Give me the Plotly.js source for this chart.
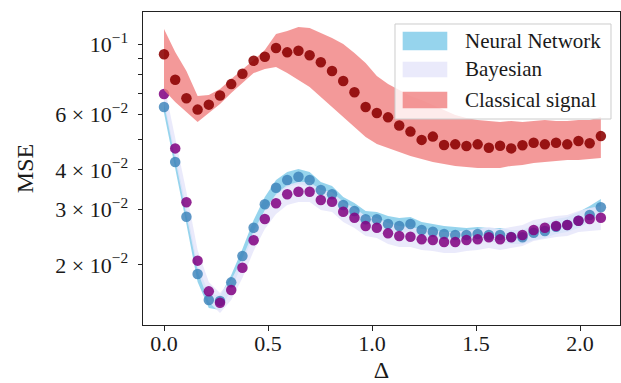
<!DOCTYPE html>
<html>
<head>
<meta charset="utf-8">
<script src="https://cdn.plot.ly/plotly-3.0.1.min.js"></script>
<style>html,body{margin:0;padding:0;background:#fff;}#chart{width:621px;height:383px;}</style>
</head>
<body>
<div id="chart"></div>
<script>
// Δ grid (40 samples from 0 to 2.1)
const delta = [0, 0.0538, 0.1077, 0.1615, 0.2154, 0.2692, 0.3231, 0.3769, 0.4308, 0.4846,
  0.5385, 0.5923, 0.6462, 0.7, 0.7538, 0.8077, 0.8615, 0.9154, 0.9692, 1.0231,
  1.0769, 1.1308, 1.1846, 1.2385, 1.2923, 1.3462, 1.4, 1.4538, 1.5077, 1.5615,
  1.6154, 1.6692, 1.7231, 1.7769, 1.8308, 1.8846, 1.9385, 1.9923, 2.0462, 2.1];

// Neural Network
const nnMean = [0.0633, 0.0424, 0.02844, 0.01873, 0.01549, 0.01538, 0.01762, 0.02135, 0.02624, 0.03113,
  0.03513, 0.03716, 0.03806, 0.03716, 0.03455, 0.03348, 0.03097, 0.02965, 0.02791, 0.02791,
  0.02697, 0.02658, 0.02697, 0.02581, 0.02549, 0.02506, 0.02488, 0.02488, 0.02506, 0.02488,
  0.02488, 0.02452, 0.02447, 0.02530, 0.02562, 0.02644, 0.02677, 0.02762, 0.02879, 0.03046];
const nnUpper = [0.0666, 0.0453, 0.0303, 0.01985, 0.01630, 0.01595, 0.01859, 0.02247, 0.02776, 0.03283,
  0.03717, 0.03940, 0.04027, 0.03940, 0.03663, 0.03558, 0.03283, 0.03143, 0.02965, 0.02943,
  0.02859, 0.02817, 0.02838, 0.02736, 0.02696, 0.02657, 0.02638, 0.02619, 0.02638, 0.02619,
  0.02619, 0.02581, 0.02581, 0.02677, 0.02716, 0.02796, 0.02838, 0.02943, 0.03075, 0.03236];
const nnLower = [0.0606, 0.0406, 0.02696, 0.01766, 0.01461, 0.01440, 0.01666, 0.02029, 0.02488, 0.02965,
  0.03332, 0.03532, 0.03610, 0.03532, 0.03283, 0.03189, 0.02943, 0.02817, 0.02657, 0.02657,
  0.02562, 0.02525, 0.02562, 0.02452, 0.02435, 0.02382, 0.02365, 0.02365, 0.02382, 0.02365,
  0.02365, 0.02331, 0.02331, 0.02399, 0.02435, 0.02506, 0.02543, 0.02619, 0.02736, 0.02900];

// Bayesian
const bayMean = [0.0696, 0.0468, 0.03159, 0.02064, 0.01650, 0.01519, 0.01666, 0.01961, 0.02394, 0.02797,
  0.03136, 0.03348, 0.03412, 0.03412, 0.03212, 0.03172, 0.02949, 0.02823, 0.02658, 0.02624,
  0.02519, 0.02470, 0.02458, 0.02411, 0.02399, 0.02364, 0.02364, 0.02399, 0.02411, 0.02447,
  0.02411, 0.02447, 0.02488, 0.02581, 0.02624, 0.02658, 0.02677, 0.02762, 0.02797, 0.02823];
const bayUpper = [0.0748, 0.0505, 0.0341, 0.02231, 0.01766, 0.01630, 0.01792, 0.02104, 0.02562, 0.02987,
  0.03356, 0.03584, 0.03663, 0.03663, 0.03455, 0.03405, 0.03166, 0.03030, 0.02859, 0.02817,
  0.02716, 0.02657, 0.02638, 0.02600, 0.02581, 0.02543, 0.02543, 0.02581, 0.02600, 0.02638,
  0.02600, 0.02638, 0.02677, 0.02776, 0.02817, 0.02859, 0.02879, 0.02965, 0.03030, 0.03075];
const bayLower = [0.0647, 0.0433, 0.02922, 0.01914, 0.01527, 0.01409, 0.01549, 0.01818, 0.02214, 0.02600,
  0.02900, 0.03097, 0.03166, 0.03166, 0.02987, 0.02943, 0.02736, 0.02619, 0.02470, 0.02435,
  0.02331, 0.02280, 0.02280, 0.02231, 0.02214, 0.02182, 0.02182, 0.02214, 0.02231, 0.02263,
  0.02231, 0.02263, 0.02296, 0.02382, 0.02417, 0.02452, 0.02470, 0.02543, 0.02562, 0.02581];

// Classical signal
const clMean = [0.0930, 0.0772, 0.0675, 0.0621, 0.0644, 0.0688, 0.0748, 0.0807, 0.0887, 0.0913,
  0.0973, 0.0943, 0.0954, 0.0923, 0.0877, 0.0823, 0.0765, 0.0705, 0.0633, 0.0606,
  0.0587, 0.0553, 0.0529, 0.0498, 0.0510, 0.0480, 0.0482, 0.0476, 0.0482, 0.0470,
  0.0477, 0.0468, 0.0479, 0.0488, 0.0482, 0.0488, 0.0482, 0.0494, 0.0486, 0.0512];
const clUpper = [0.1118, 0.0945, 0.0823, 0.0686, 0.0691, 0.0722, 0.0776, 0.0829, 0.0892, 0.0959,
  0.1078, 0.1102, 0.1134, 0.1126, 0.1086, 0.1047, 0.1002, 0.0939, 0.0872, 0.0794,
  0.0749, 0.0717, 0.0686, 0.0666, 0.0642, 0.0619, 0.0597, 0.0584, 0.0576, 0.0572,
  0.0567, 0.0572, 0.0567, 0.0572, 0.0576, 0.0572, 0.0572, 0.0576, 0.0576, 0.0589];
const clLower = [0.0717, 0.0657, 0.0610, 0.0567, 0.0606, 0.0647, 0.0701, 0.0754, 0.0811, 0.0835,
  0.0847, 0.0811, 0.0771, 0.0732, 0.0681, 0.0633, 0.0589, 0.0547, 0.0509, 0.0483,
  0.0469, 0.0456, 0.0443, 0.0433, 0.0424, 0.0418, 0.0412, 0.0409, 0.0406, 0.0406,
  0.0406, 0.0412, 0.0415, 0.0421, 0.0424, 0.0427, 0.0430, 0.0430, 0.0433, 0.0436];

const seriesNames = ['Neural Network', 'Bayesian', 'Classical signal'];

const yTickVals = [0.02, 0.03, 0.04, 0.06, 0.1];
const yTickText = ['2 × 10<sup>−2</sup>', '3 × 10<sup>−2</sup>', '4 × 10<sup>−2</sup>',
  '6 × 10<sup>−2</sup>', '10<sup>−1</sup>'];
const yMinorVals = [0.05, 0.07, 0.08, 0.09];
const xTickVals = [0, 0.5, 1.0, 1.5, 2.0];
const xTickText = ['0.0', '0.5', '1.0', '1.5', '2.0'];

const FONT = 'Liberation Serif, Times New Roman, serif';
const C_NN_BAND = 'rgba(135,206,235,0.88)';
const C_BAY_BAND = 'rgba(230,230,250,0.85)';
const C_CL_BAND = 'rgba(240,128,128,0.8)';
const C_NN_DOT = 'rgba(60,130,185,0.82)';
const C_BAY_DOT = 'rgba(128,0,128,0.85)';
const C_CL_DOT = 'rgba(139,0,0,0.88)';

function band(lower, upper, color, name) {
  return [
    {x: delta, y: lower, mode: 'lines', line: {width: 0, color: color}, hoverinfo: 'skip', showlegend: false},
    {x: delta, y: upper, mode: 'lines', line: {width: 0, color: color}, fill: 'tonexty', fillcolor: color, name: name, showlegend: false}
  ];
}
function dots(y, color, name) {
  return {x: delta, y: y, mode: 'markers', marker: {size: 10.5, color: color, line: {width: 0}}, name: name, showlegend: false};
}

const data = [].concat(
  band(nnLower, nnUpper, C_NN_BAND, seriesNames[0]),
  band(bayLower, bayUpper, C_BAY_BAND, seriesNames[1]),
  [dots(nnMean, C_NN_DOT, seriesNames[0]), dots(bayMean, C_BAY_DOT, seriesNames[1])],
  band(clLower, clUpper, C_CL_BAND, seriesNames[2]),
  [dots(clMean, C_CL_DOT, seriesNames[2])]
);

// custom legend (matplotlib style patches)
const legX0 = 0.5283, legX1 = 0.9811, legY0 = 0.6581, legY1 = 0.9617;
const patchX0 = 0.5444, patchX1 = 0.6379;
const patchRows = [[0.8776, 0.9371], [0.7914, 0.8412], [0.6923, 0.7454]];
const patchColors = [C_NN_BAND, C_BAY_BAND, C_CL_BAND];
const textX = 0.6715;
const shapes = [{type: 'rect', xref: 'paper', yref: 'paper', x0: legX0, x1: legX1, y0: legY0, y1: legY1,
  line: {color: '#cccccc', width: 1}, fillcolor: 'rgba(255,255,255,0.8)', layer: 'above'}];
const annotations = [];
seriesNames.forEach((n, i) => {
  shapes.push({type: 'rect', xref: 'paper', yref: 'paper', x0: patchX0, x1: patchX1,
    y0: patchRows[i][0], y1: patchRows[i][1], line: {width: 0}, fillcolor: patchColors[i], layer: 'above'});
  annotations.push({xref: 'paper', yref: 'paper', x: textX, y: (patchRows[i][0] + patchRows[i][1]) / 2,
    xanchor: 'left', yanchor: 'middle', showarrow: false, text: n,
    font: {family: FONT, size: 21, color: '#1a1a1a'}});
});

const layout = {
  width: 621, height: 383,
  margin: {l: 143, r: 1, t: 12, b: 58, pad: 0},
  paper_bgcolor: '#fff', plot_bgcolor: '#fff',
  font: {family: FONT, color: '#1a1a1a'},
  showlegend: false,
  xaxis: {
    range: [-0.101, 2.192], showgrid: false, zeroline: false,
    showline: true, mirror: true, linecolor: '#222', linewidth: 1,
    ticks: 'outside', ticklen: 4.5, tickcolor: '#222', tickwidth: 1,
    tickvals: xTickVals, ticktext: xTickText, tickfont: {family: FONT, size: 22, color: '#1a1a1a'},
    ticklabelstandoff: -6,
    title: {text: 'Δ', font: {family: FONT, size: 24, color: '#1a1a1a'}, standoff: 14},
    automargin: false
  },
  yaxis: {
    type: 'log', range: [-1.8891, -0.8977], showgrid: false, zeroline: false,
    showline: true, mirror: true, linecolor: '#222', linewidth: 1,
    ticks: 'outside', ticklen: 4.5, tickcolor: '#222', tickwidth: 1,
    tickvals: yTickVals, ticktext: yTickText, tickfont: {family: FONT, size: 22, color: '#1a1a1a'},
    minor: {tickvals: yMinorVals, ticks: 'outside', ticklen: 4, tickcolor: '#222', tickwidth: 1, showgrid: false},
    ticklabelstandoff: 5,
    title: {text: 'MSE', font: {family: FONT, size: 24, color: '#1a1a1a'}, standoff: 14},
    automargin: false
  },
  shapes: shapes,
  annotations: annotations
};

Plotly.newPlot('chart', data, layout, {displayModeBar: false, staticPlot: true});
</script>
</body>
</html>
